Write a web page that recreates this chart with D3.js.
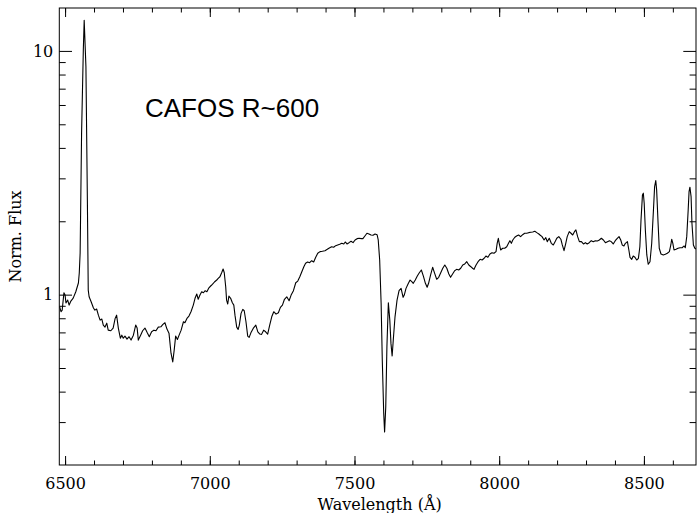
<!DOCTYPE html>
<html>
<head>
<meta charset="utf-8">
<script src="https://cdn.jsdelivr.net/npm/d3@7"></script>
<style>
  html, body { margin: 0; padding: 0; background: #fff; }
  svg { display: block; }
  .tick text { font-family: "DejaVu Serif", serif; font-size: 16px; fill: #000; }
  .axis-title { font-family: "DejaVu Serif", serif; font-size: 16px; fill: #000; }
</style>
</head>
<body>
<svg id="chart" width="697" height="513"></svg>
<script>
// Normalised spectrum, wavelength in Angstrom
const wavelength = [
  6481, 6486, 6490, 6496, 6500, 6503, 6509, 6514, 6520, 6528, 6537, 6546, 6549, 6552, 6557, 6563, 6566, 6572, 6577, 6580,
  6583, 6590, 6598, 6603, 6609, 6615, 6621, 6627, 6632, 6638, 6644, 6649, 6658, 6666, 6673, 6678, 6684, 6691, 6696, 6701,
  6707, 6714, 6721, 6728, 6736, 6744, 6749, 6753, 6761, 6768, 6776, 6784, 6791, 6799, 6807, 6814, 6822, 6831, 6838, 6845,
  6852, 6859, 6866, 6872, 6877, 6882, 6888, 6894, 6901, 6909, 6914, 6921, 6928, 6935, 6943, 6949, 6955, 6960, 6966, 6972,
  6978, 6984, 6990, 6997, 7003, 7009, 7016, 7024, 7029, 7035, 7041, 7046, 7050, 7055, 7058, 7062, 7066, 7072, 7078, 7083,
  7087, 7093, 7098, 7102, 7108, 7114, 7119, 7125, 7131, 7136, 7142, 7150, 7159, 7166, 7173, 7179, 7186, 7193, 7200, 7207,
  7214, 7221, 7229, 7237, 7244, 7251, 7258, 7266, 7274, 7281, 7289, 7297, 7304, 7311, 7318, 7325, 7331, 7338, 7345, 7352,
  7359, 7366, 7373, 7381, 7389, 7398, 7406, 7413, 7421, 7428, 7435, 7442, 7449, 7456, 7463, 7468, 7474, 7481, 7488, 7495,
  7502, 7509, 7516, 7523, 7529, 7536, 7543, 7550, 7557, 7564, 7571, 7578, 7582, 7587, 7592, 7596, 7601, 7604, 7608, 7612,
  7617, 7622, 7626, 7630, 7634, 7640, 7647, 7654, 7661, 7668, 7672, 7678, 7685, 7692, 7698, 7703, 7710, 7717, 7724, 7731,
  7738, 7745, 7751, 7756, 7763, 7770, 7777, 7784, 7791, 7798, 7805, 7812, 7819, 7826, 7832, 7839, 7846, 7853, 7860, 7867,
  7874, 7881, 7888, 7895, 7902, 7908, 7913, 7920, 7927, 7934, 7941, 7948, 7954, 7961, 7968, 7975, 7982, 7989, 7993, 7997,
  8000, 8005, 8012, 8019, 8026, 8033, 8037, 8042, 8047, 8054, 8060, 8067, 8074, 8081, 8088, 8095, 8102, 8109, 8116, 8123,
  8130, 8137, 8141, 8148, 8155, 8161, 8166, 8173, 8180, 8187, 8193, 8199, 8206, 8213, 8218, 8224, 8230, 8235, 8242, 8248,
  8254, 8260, 8265, 8271, 8277, 8284, 8291, 8298, 8304, 8311, 8318, 8325, 8332, 8339, 8346, 8353, 8360, 8367, 8374, 8381,
  8387, 8394, 8401, 8408, 8414, 8420, 8425, 8431, 8436, 8443, 8448, 8452, 8458, 8463, 8469, 8475, 8481, 8486, 8490, 8495,
  8498, 8501, 8505, 8510, 8515, 8521, 8527, 8533, 8537, 8541, 8544, 8549, 8553, 8559, 8567, 8574, 8581, 8588, 8593, 8596,
  8600, 8604, 8611, 8618, 8625, 8632, 8639, 8643, 8648, 8653, 8656, 8659, 8663, 8666, 8671, 8676, 8680
];

const flux = [
  0.892, 0.851, 0.864, 1.018, 0.996, 0.924, 0.950, 0.906, 0.941, 0.968, 1.028, 1.116, 1.227, 1.482, 4.61, 10.11, 13.35, 8.61, 2.447, 1.044,
  0.980, 0.935, 0.881, 0.864, 0.873, 0.824, 0.786, 0.794, 0.750, 0.736, 0.764, 0.715, 0.711, 0.729, 0.799, 0.824, 0.729, 0.663, 0.682, 0.663,
  0.676, 0.657, 0.672, 0.651, 0.682, 0.750, 0.729, 0.651, 0.682, 0.711, 0.729, 0.697, 0.672, 0.704, 0.715, 0.711, 0.736, 0.738, 0.755, 0.767,
  0.722, 0.695, 0.575, 0.530, 0.592, 0.676, 0.655, 0.682, 0.715, 0.774, 0.767, 0.799, 0.817, 0.851, 0.906, 0.966, 1.006, 0.957, 0.996, 1.028,
  1.018, 1.038, 1.028, 1.067, 1.085, 1.102, 1.127, 1.148, 1.167, 1.184, 1.230, 1.274, 1.230, 1.078, 0.950, 0.915, 0.987, 0.966, 0.926, 0.906,
  0.824, 0.736, 0.720, 0.750, 0.838, 0.870, 0.859, 0.774, 0.676, 0.668, 0.697, 0.727, 0.750, 0.704, 0.689, 0.687, 0.715, 0.704, 0.689, 0.750,
  0.811, 0.851, 0.832, 0.843, 0.887, 0.906, 0.957, 0.980, 0.944, 0.996, 1.038, 1.119, 1.137, 1.184, 1.242, 1.302, 1.345, 1.361, 1.352, 1.378,
  1.361, 1.423, 1.478, 1.501, 1.506, 1.515, 1.535, 1.554, 1.573, 1.564, 1.588, 1.599, 1.609, 1.624, 1.614, 1.645, 1.614, 1.634, 1.656, 1.634,
  1.676, 1.697, 1.703, 1.697, 1.697, 1.741, 1.786, 1.774, 1.757, 1.752, 1.774, 1.762, 1.676, 1.387, 0.921, 0.539, 0.325, 0.273, 0.346, 0.611,
  0.926, 0.786, 0.631, 0.560, 0.651, 0.811, 0.950, 1.038, 1.061, 0.975, 0.996, 1.061, 1.105, 1.148, 1.130, 1.113, 1.148, 1.192, 1.230, 1.262,
  1.192, 1.113, 1.072, 1.113, 1.204, 1.295, 1.223, 1.156, 1.178, 1.230, 1.283, 1.323, 1.283, 1.215, 1.178, 1.215, 1.254, 1.270, 1.262, 1.283,
  1.323, 1.336, 1.365, 1.323, 1.302, 1.283, 1.270, 1.323, 1.365, 1.396, 1.387, 1.410, 1.440, 1.423, 1.468, 1.486, 1.478, 1.501, 1.624, 1.703,
  1.624, 1.525, 1.550, 1.550, 1.573, 1.634, 1.665, 1.624, 1.676, 1.720, 1.741, 1.757, 1.730, 1.762, 1.786, 1.786, 1.796, 1.803, 1.808, 1.820,
  1.796, 1.774, 1.757, 1.730, 1.676, 1.713, 1.650, 1.703, 1.624, 1.599, 1.650, 1.703, 1.730, 1.688, 1.599, 1.515, 1.624, 1.730, 1.813, 1.786,
  1.757, 1.813, 1.843, 1.730, 1.650, 1.650, 1.614, 1.634, 1.614, 1.634, 1.665, 1.650, 1.665, 1.660, 1.676, 1.703, 1.676, 1.634, 1.650, 1.665,
  1.650, 1.614, 1.665, 1.703, 1.730, 1.676, 1.599, 1.584, 1.624, 1.650, 1.525, 1.423, 1.396, 1.440, 1.423, 1.387, 1.410, 1.573, 2.026, 2.566,
  2.608, 2.372, 1.843, 1.455, 1.332, 1.365, 1.624, 2.227, 2.776, 2.938, 2.691, 1.963, 1.550, 1.468, 1.455, 1.464, 1.478, 1.501, 1.599, 1.688,
  1.624, 1.525, 1.535, 1.550, 1.558, 1.558, 1.584, 1.558, 1.730, 2.227, 2.647, 2.760, 2.525, 1.963, 1.599, 1.550, 1.540
];

// Axis ticks and labels
const xMajorTicks = [6500, 7000, 7500, 8000, 8500];
const xMinorTicks = d3.range(6500, 8700, 100);
const yMajorTicks = [1, 10];
const yMinorTicks = [0.3, 0.4, 0.5, 0.6, 0.7, 0.8, 0.9, 2, 3, 4, 5, 6, 7, 8, 9];
const xDomain = [6480, 8680];
const yDomain = [0.2, 15];
const xTitle = "Wavelength (Å)";
const yTitle = "Norm. Flux";
const annotation = "CAFOS R~600";

const svg = d3.select("#chart");
const plotLeft = 59.3, plotRight = 696, plotTop = 8, plotBottom = 465;
const plotW = plotRight - plotLeft, plotH = plotBottom - plotTop;

const x = d3.scaleLinear().domain(xDomain).range([plotLeft, plotRight]);
const y = d3.scaleLog().domain(yDomain).range([plotBottom, plotTop]);

const xMaj = 9, xMin = 4.5, yMaj = 12.7, yMin = 6.4;

function strip(g) {
  g.select(".domain").remove();
  g.selectAll(".tick line").attr("stroke", "#000").attr("stroke-width", 1);
}

// bottom axis (ticks point inward)
svg.append("g").attr("transform", `translate(0,${plotBottom})`)
  .call(d3.axisBottom(x).tickValues(xMinorTicks).tickSize(-xMin).tickFormat(""))
  .call(strip);
svg.append("g").attr("transform", `translate(0,${plotBottom})`)
  .call(d3.axisBottom(x).tickValues(xMajorTicks).tickSize(-xMaj).tickPadding(13).tickFormat(d3.format("d")))
  .call(strip);
// top axis
svg.append("g").attr("transform", `translate(0,${plotTop})`)
  .call(d3.axisTop(x).tickValues(xMinorTicks).tickSize(-xMin).tickFormat(""))
  .call(strip);
svg.append("g").attr("transform", `translate(0,${plotTop})`)
  .call(d3.axisTop(x).tickValues(xMajorTicks).tickSize(-xMaj).tickFormat(""))
  .call(strip);
// left axis
svg.append("g").attr("transform", `translate(${plotLeft},0)`)
  .call(d3.axisLeft(y).tickValues(yMinorTicks).tickSize(-yMin).tickFormat(""))
  .call(strip);
svg.append("g").attr("transform", `translate(${plotLeft},0)`)
  .call(d3.axisLeft(y).tickValues(yMajorTicks).tickSize(-yMaj).tickPadding(6).tickFormat(d3.format("d")))
  .call(strip);
// right axis
svg.append("g").attr("transform", `translate(${plotRight},0)`)
  .call(d3.axisRight(y).tickValues(yMinorTicks).tickSize(-yMin).tickFormat(""))
  .call(strip);
svg.append("g").attr("transform", `translate(${plotRight},0)`)
  .call(d3.axisRight(y).tickValues(yMajorTicks).tickSize(-yMaj).tickFormat(""))
  .call(strip);

// frame
svg.append("rect").attr("x", plotLeft).attr("y", plotTop).attr("width", plotW).attr("height", plotH)
  .attr("fill", "none").attr("stroke", "#000").attr("stroke-width", 1);

// spectrum, clipped to the plot box
svg.append("defs").append("clipPath").attr("id", "plotclip")
  .append("rect").attr("x", plotLeft).attr("y", plotTop).attr("width", plotW).attr("height", plotH);

const points = d3.zip(wavelength, flux);
const line = d3.line().x(d => x(d[0])).y(d => y(d[1]));
svg.append("path").datum(points)
  .attr("clip-path", "url(#plotclip)")
  .attr("d", line)
  .attr("fill", "none").attr("stroke", "#000").attr("stroke-width", 1.1)
  .attr("stroke-linejoin", "round");

// titles
svg.append("text").attr("class", "axis-title")
  .attr("x", (plotLeft + plotRight) / 2 + 2).attr("y", 510).attr("text-anchor", "middle")
  .text(xTitle);
svg.append("text").attr("class", "axis-title")
  .attr("transform", `translate(21,${(plotTop + plotBottom) / 2}) rotate(-90)`)
  .attr("text-anchor", "middle")
  .text(yTitle);

svg.append("text")
  .attr("x", 145).attr("y", 117.3)
  .attr("font-family", "Liberation Sans, Arial, sans-serif")
  .attr("font-size", 26).attr("fill", "#000")
  .text(annotation);
</script>
</body>
</html>
